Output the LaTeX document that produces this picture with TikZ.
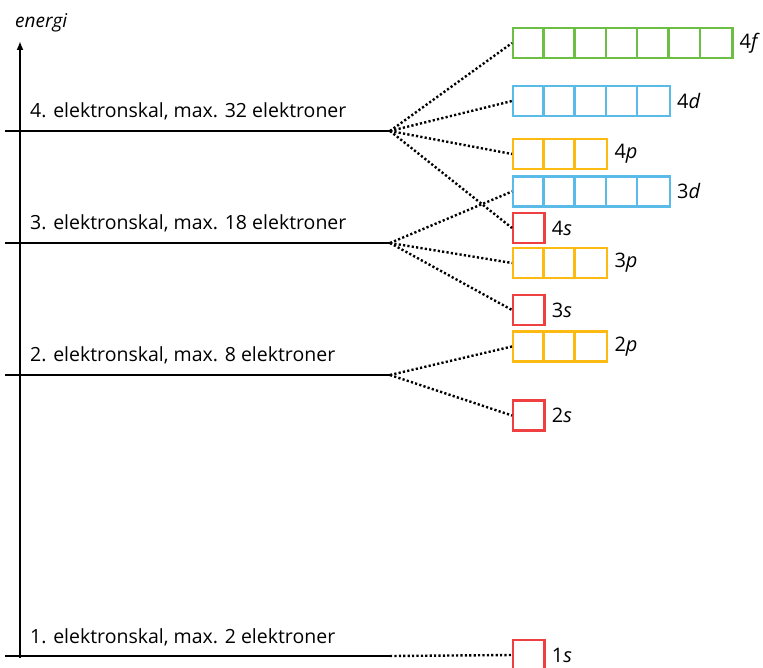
\documentclass[tikz,border=0pt]{standalone}
\usepackage{fontspec}
\setmainfont{Open Sans}
\usetikzlibrary{arrows.meta}
\definecolor{cf}{RGB}{108,190,69}
\definecolor{cd}{RGB}{90,187,232}
\definecolor{cp}{RGB}{253,186,18}
\definecolor{cs}{RGB}{238,64,64}
\newcommand\orbital[6]{%
  \node[orb,draw=#5,minimum width=#4*31.3pt] (#1) at (#2,#3) {};
  \foreach \i in {1,...,#4}{\ifnum\i<#4 \draw[#5,line width=2.4pt] ([xshift=\i*31.3pt]#1.north west) -- ([xshift=\i*31.3pt]#1.south west);\fi}
  \node[olab] (#1l) at (#1.east) {#6};
}
\begin{document}
\begin{tikzpicture}[x=1pt,y=-1pt,
  orb/.style={rectangle,anchor=west,line width=2.4pt,minimum height=30pt,inner sep=0pt,fill=white},
  olab/.style={anchor=west,xshift=4pt,font=\fontsize{20}{22}\selectfont,inner sep=2pt},
  shell/.style={anchor=base west,font=\fontsize{19.5}{22}\selectfont,inner sep=0pt},
  level/.style={line width=2pt},
  dots/.style={line width=2.4pt,dash pattern=on 2.2pt off 2.2pt}]
\clip (0,0) rectangle (763,668);
\fill[white] (0,0) rectangle (763,668);
% axis
\coordinate (ax0) at (20,658);
\coordinate (ax1) at (20,41);
\draw[line width=2.4pt,-{Latex[length=9pt,width=7pt]}] (ax0) -- (ax1);
\node[anchor=base west,font=\fontsize{19}{21}\selectfont\itshape,inner sep=0pt] (energi) at (15,28) {energi};
% levels
\coordinate (a4) at (5,131); \coordinate (b4) at (390,131);
\coordinate (a3) at (5,243); \coordinate (b3) at (390,243);
\coordinate (a2) at (5,375); \coordinate (b2) at (390,375);
\coordinate (a1) at (5,656); \coordinate (b1) at (390,656);
\draw[level] (a4) -- (b4);
\draw[level] (a3) -- (b3);
\draw[level] (a2) -- (b2);
\draw[level] (a1) -- (b1);
\node[shell] (t4) at (30,118) {4. elektronskal, max. 32 elektroner};
\node[shell] (t3) at (30,230) {3. elektronskal, max. 18 elektroner};
\node[shell] (t2) at (30,361) {2. elektronskal, max. 8 elektroner};
\node[shell] (t1) at (30,643) {1. elektronskal, max. 2 elektroner};
% orbitals
\orbital{o4f}{512}{43}{7}{cf}{4\textit{f}}
\orbital{o4d}{512}{101}{5}{cd}{4\textit{d}}
\orbital{o4p}{512}{154}{3}{cp}{4\textit{p}}
\orbital{o3d}{512}{191.5}{5}{cd}{3\textit{d}}
\orbital{o4s}{512}{228}{1}{cs}{4\textit{s}}
\orbital{o3p}{512}{263}{3}{cp}{3\textit{p}}
\orbital{o3s}{512}{310}{1}{cs}{3\textit{s}}
\orbital{o2p}{512}{346.5}{3}{cp}{2\textit{p}}
\orbital{o2s}{512}{415.5}{1}{cs}{2\textit{s}}
\orbital{o1s}{512}{655}{1}{cs}{1\textit{s}}
% connectors
\draw[dots] (b4) -- (o4f.west);
\draw[dots] (b4) -- (o4d.west);
\draw[dots] (b4) -- (o4p.west);
\draw[dots] (b4) -- (o4s.west);
\draw[dots] (b3) -- (o3d.west);
\draw[dots] (b3) -- (o3p.west);
\draw[dots] (b3) -- (o3s.west);
\draw[dots] (b2) -- (o2p.west);
\draw[dots] (b2) -- (o2s.west);
\draw[dots] (b1) -- (o1s.west);
\end{tikzpicture}
\end{document}
